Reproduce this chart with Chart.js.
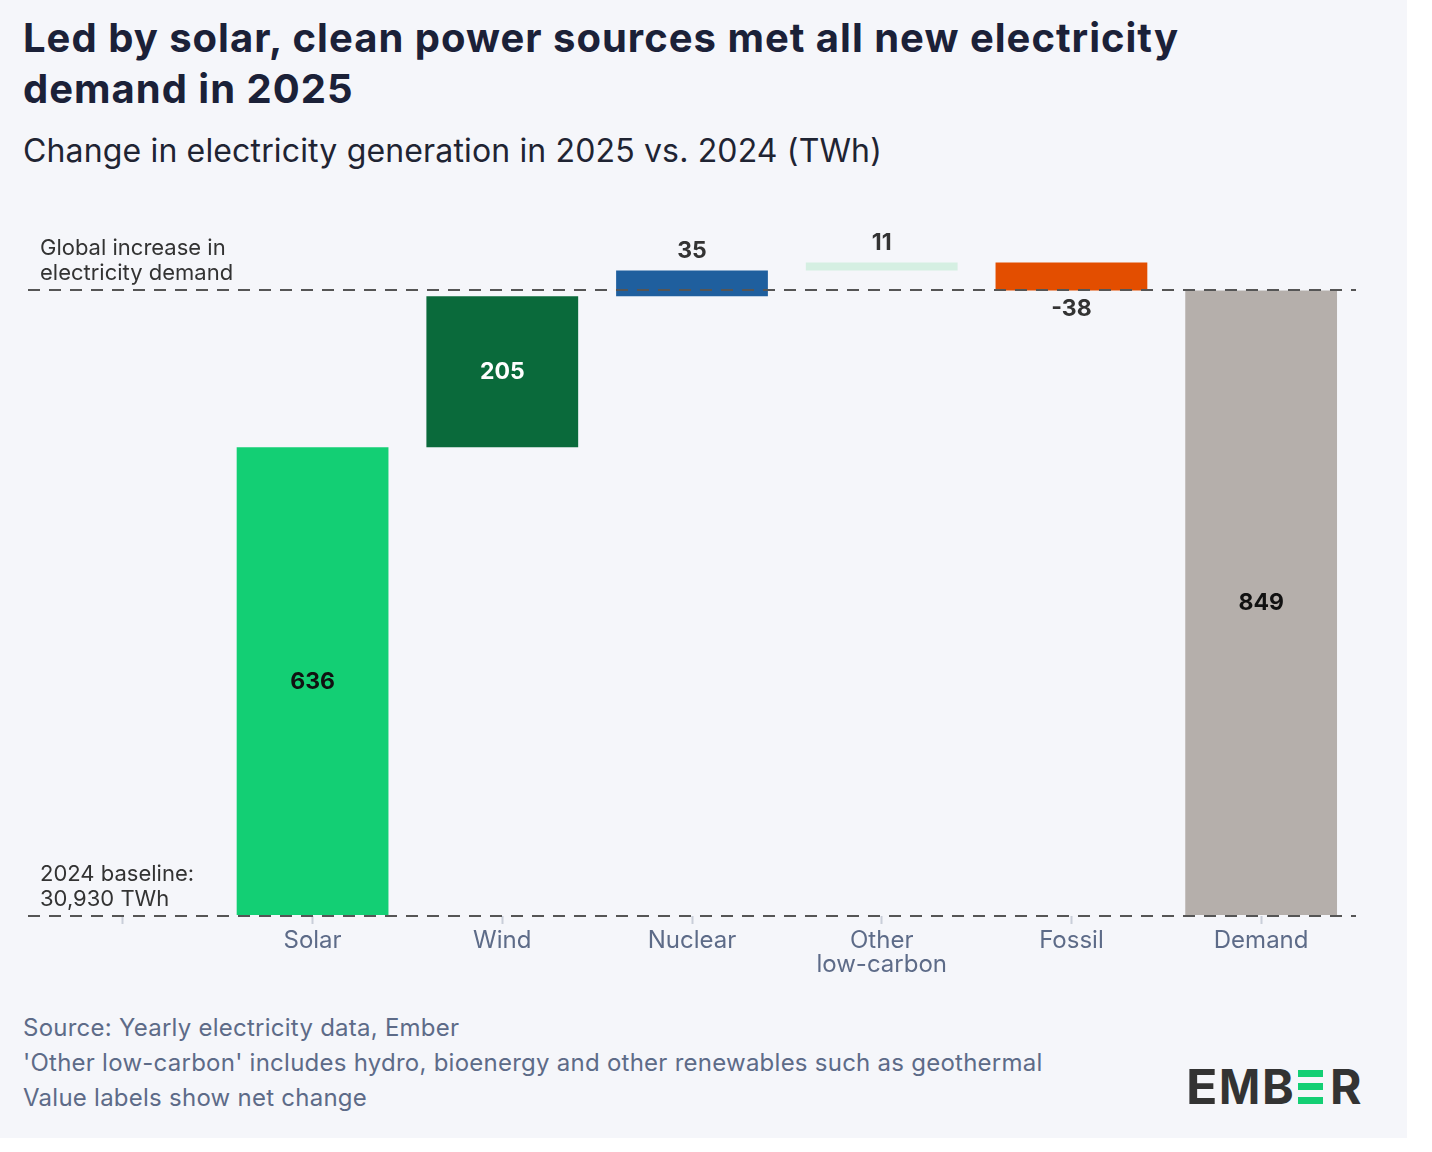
<!DOCTYPE html>
<html>
<head>
<meta charset="utf-8">
<script src="https://cdn.jsdelivr.net/npm/chart.js@4"></script>
<style>
body { margin: 0; background: #ffffff; font-family: Inter, sans-serif; }
#card { position: relative; width: 1407px; height: 1138px; background: #f5f6fa; overflow: hidden; }
h1 { position: absolute; left: 23px; top: 12px; margin: 0; font-size: 40px; line-height: 51px; font-weight: 700; color: #1b2138; letter-spacing: 1px; }
h2 { position: absolute; left: 23px; top: 131px; margin: 0; font-size: 32px; line-height: 40px; font-weight: 400; color: #1f2433; letter-spacing: 0.15px; }
#chartBox { position: absolute; left: 0; top: 202px; width: 1407px; height: 790px; }
#notes { position: absolute; left: 23px; top: 1010px; font-size: 24px; line-height: 35px; color: #5d6b88; letter-spacing: 0.25px; }
#logo { position: absolute; left: 0; top: 0; }
#logo span { position: absolute; top: 1063px; font-size: 48px; line-height: 48px; font-weight: 700; color: #333333; }
#logo i { position: absolute; left: 1298px; width: 25px; height: 7px; background: #13cf74; }
</style>
</head>
<body>
<div id="card">
  <h1>Led by solar, clean power sources met all new electricity<br>demand in 2025</h1>
  <h2>Change in electricity generation in 2025 vs. 2024 (TWh)</h2>
  <div id="chartBox"><canvas id="waterfallChart"></canvas></div>
  <div id="notes">
    Source: Yearly electricity data, Ember<br>
    'Other low-carbon' includes hydro, bioenergy and other renewables such as geothermal<br>
    Value labels show net change
  </div>
  <div id="logo">
    <span style="left:1186px; transform-origin:left; transform:scaleX(1.08)">E</span>
    <span style="left:1219px; transform-origin:left; transform:scaleX(0.92)">M</span>
    <span style="left:1262px">B</span>
    <i style="top:1070px"></i><i style="top:1083px"></i><i style="top:1097px"></i>
    <span style="left:1330px">R</span>
  </div>
</div>
<script>
// data
const categories = ['', 'Solar', 'Wind', 'Nuclear', ['Other', 'low-carbon'], 'Fossil', 'Demand'];
const netChange = [null, 636, 205, 35, 11, -38, 849];
const totalCategory = 'Demand';
const referenceLevels = [0, 849];
const demandNote = ['Global increase in', 'electricity demand'];
const baselineNote = ['2024 baseline:', '30,930 TWh'];

// styles
const barColours = ['transparent', '#13cf74', '#0a6a3b', '#1f5f9e', '#d5efe2', '#e34e00', '#b5afab'];
const labelColours = ['#222', '#111', '#ffffff', '#333', '#333', '#333', '#111'];

// floating bar ranges: each step starts where the previous one ended, the total starts at zero
let running = 0;
const ranges = netChange.map((v, i) => {
    if (v === null) return null;
    if (categories[i] === totalCategory) return [0, v];
    const start = running;
    running += v;
    return [start, running];
});

const labelPlugin = {
    id: 'valueLabels',
    afterDraw(chart) {
        const ctx = chart.ctx;
        const x = chart.scales.x;
        const y = chart.scales.y;
        ctx.save();
        ctx.font = 'bold 23px Inter';
        ctx.textAlign = 'center';
        ctx.textBaseline = 'middle';
        ranges.forEach((r, i) => {
            if (!r) return;
            const cx = x.getPixelForValue(i);
            const top = y.getPixelForValue(Math.max(r[0], r[1]));
            const bottom = y.getPixelForValue(Math.min(r[0], r[1]));
            let ty;
            if (bottom - top > 60) {
                ty = (top + bottom) / 2;
            } else if (netChange[i] >= 0) {
                ty = top - 19;
            } else {
                ty = bottom + 19;
            }
            ctx.fillStyle = labelColours[i];
            ctx.fillText(String(netChange[i]), cx, ty);
        });

        ctx.font = '22px Inter';
        ctx.fillStyle = '#333333';
        ctx.textAlign = 'left';
        const demandY = y.getPixelForValue(referenceLevels[1]);
        const baseY = y.getPixelForValue(referenceLevels[0]);
        ctx.fillText(demandNote[0], 40, demandY - 42);
        ctx.fillText(demandNote[1], 40, demandY - 17);
        ctx.fillText(baselineNote[0], 40, baseY - 42);
        ctx.fillText(baselineNote[1], 40, baseY - 17);
        ctx.restore();
    }
};

const ctx = document.getElementById('waterfallChart').getContext('2d');
new Chart(ctx, {
    type: 'bar',
    data: {
        labels: categories,
        datasets: [{
            data: ranges,
            backgroundColor: barColours,
            borderWidth: 0,
            borderSkipped: false,
            barPercentage: 0.8,
            categoryPercentage: 1.0
        }]
    },
    options: {
        responsive: true,
        maintainAspectRatio: false,
        animation: false,
        layout: {
            padding: { top: 14, left: 28, right: 51, bottom: 16 }
        },
        scales: {
            x: {
                offset: true,
                afterFit: scale => { scale.height = 60; },
                border: { display: false },
                grid: {
                    offset: false,
                    drawOnChartArea: false,
                    drawTicks: true,
                    tickLength: 8,
                    tickWidth: 2,
                    tickColor: '#c9ced9'
                },
                ticks: {
                    color: '#5d6b88',
                    font: { family: 'Inter', size: 24, lineHeight: 1.0 },
                    padding: 5,
                    maxRotation: 0,
                    autoSkip: false
                }
            },
            y: {
                min: 0,
                max: 950,
                afterFit: scale => { scale.width = 0; },
                afterBuildTicks: scale => {
                    scale.ticks = referenceLevels.map(v => ({ value: v }));
                },
                border: { display: false, dash: [12, 9] },
                grid: {
                    color: '#555555',
                    lineWidth: 2,
                    drawTicks: false,
                    z: 1
                },
                ticks: { display: false }
            }
        },
        plugins: {
            legend: { display: false },
            tooltip: { enabled: false }
        }
    },
    plugins: [labelPlugin]
});
</script>
</body>
</html>
